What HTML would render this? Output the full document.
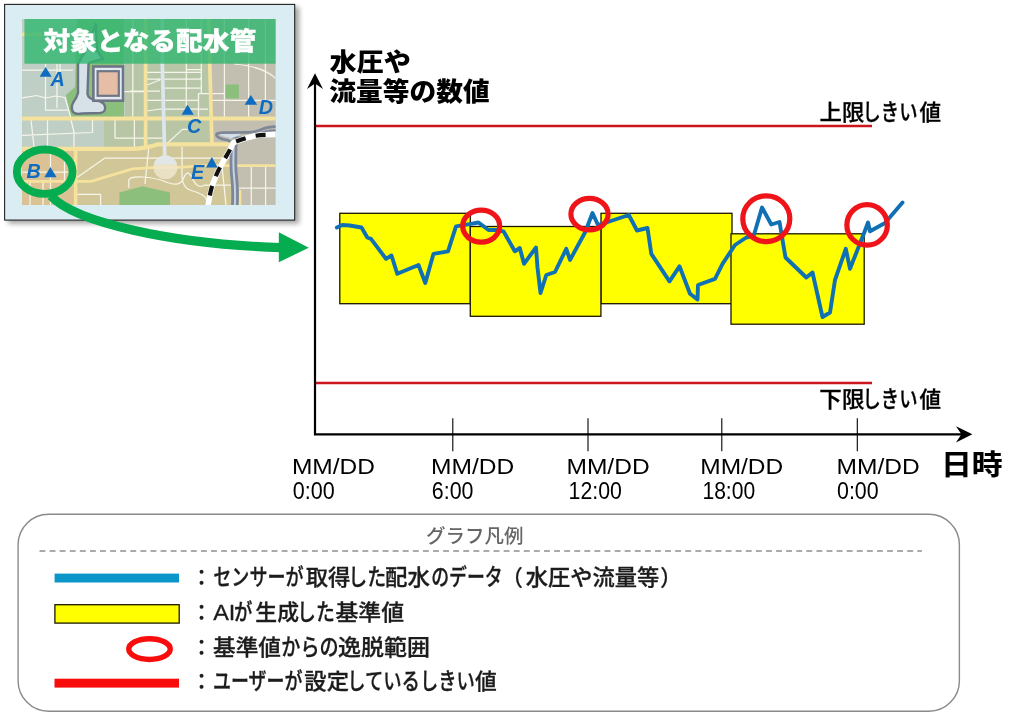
<!DOCTYPE html>
<html lang="ja">
<head>
<meta charset="utf-8">
<title>配水管 データ監視グラフ</title>
<style>
html,body{margin:0;padding:0;background:#fff;}
body{width:1024px;height:712px;overflow:hidden;position:relative;font-family:"Liberation Sans","Noto Sans CJK JP",sans-serif;}
svg{position:absolute;left:0;top:0;display:block;}
text{font-family:"Liberation Sans","Noto Sans CJK JP",sans-serif;}
.jp{font-family:"Liberation Sans","Noto Sans CJK JP",sans-serif;}
</style>
</head>
<body>
<svg width="1024" height="712" viewBox="0 0 1024 712">
<defs>
  <filter id="sh" x="-10%" y="-10%" width="130%" height="130%">
    <feGaussianBlur in="SourceAlpha" stdDeviation="2.6"/>
    <feOffset dx="4" dy="2.5"/>
    <feComponentTransfer><feFuncA type="linear" slope="0.36"/></feComponentTransfer>
    <feMerge><feMergeNode/><feMergeNode in="SourceGraphic"/></feMerge>
  </filter>
  <clipPath id="mapclip"><rect x="22.2" y="19" width="253.4" height="186"/></clipPath>
</defs>

<!-- ===== MAP PANEL ===== -->
<g id="panel">
  <rect x="4.6" y="4.4" width="290.1" height="215.7" fill="#daedf3" stroke="#222" stroke-width="1.1" filter="url(#sh)"/>
  <g id="map" clip-path="url(#mapclip)">
<!--MAP-BEGIN-->
    <!-- base areas -->
    <rect x="22" y="19" width="254" height="186" fill="#c2beb0"/>
    <rect x="22" y="19" width="187.5" height="100" fill="#bfcfc5"/>
    <rect x="125" y="19" width="84.5" height="100" fill="#b8c6a8"/>
    <rect x="22" y="118" width="82" height="30" fill="#bfcfc5"/>
    <rect x="104" y="118" width="107" height="30" fill="#b8c6a6"/>
    <path d="M22,147 H233.5 L236,150 V205 H22 Z" fill="#d1c697"/>
    <rect x="22" y="149" width="54" height="56" fill="#dac295"/>
    <!-- parks -->
    <path d="M77,19 H124 V118.5 H71 L66,95 L75,87 Z" fill="#8cbf7c"/>
    <rect x="225.6" y="84.5" width="13.2" height="14" fill="#8cbf7c"/>
    <path d="M119.4,205 V192.5 L142.5,186.2 L170,192.5 V205 Z" fill="#8cbf7c"/>
    <!-- canal + round plaza -->
    <!-- white minor roads -->
    <g fill="none" stroke="#f6f5ea" stroke-width="1.25" stroke-linejoin="round">
      <!-- upper-left block (A area) -->
      <path d="M22,70 H73 M45.5,64 V110 H68 M57,64 V108 M60,64 V73 M22,98 L37,95.5 L45.5,98 L56,96 L65,97.5 L71,118"/>
      <!-- between park and yellow road 1 -->
      <path d="M132.8,19 V118 M124,91.5 H145"/>
      <!-- grid between yellow road1 and road2 -->
      <path d="M147,72.3 H201 M147,79 H200 L201,78 M147,85 L160,80 M164,88 H201.5 M130,91 H160 M147,100.4 H198 M147,111 L160,109 H208 M186.3,19 V106 M201.3,19 V93.5 H198.5 V118 M198.5,93.5 H224 M186.3,69.5 H201"/>
      <!-- upper right -->
      <path d="M224.4,19 V118 M248.6,19 V118 M265.4,19 V100 M211,100.4 H276 M234,64 Q262,66 276,78.5"/>
      <!-- mid band -->
      <path d="M22,135.5 L92.5,132.5 V120 M31,120 L34,147 M47.5,120 V147 M71,120 L74,132 V147 M115,120 V138 H162.5 M134.4,120 V147 M187.5,129.4 H182.5 L167.5,143"/>
      <!-- lower left -->
      <path d="M22,172 H68 M30,181 V205 M43,181 V205 M50.5,149 V205 M64.5,160 V181 M77,194.4 H100.6 V205"/>
      <path d="M77,177.5 L105,158.1 H236 M128.8,188 V180 Q130,176.5 142.5,177 T167.5,182.5 T183.8,177.8 T192.5,178.8 T205,185 H236 M148.8,147 L145,184 M182,147 V177 Q183,188 190,190 T202.5,195 T206.5,205 M222,166 L226,205"/>
      <!-- lower right grid -->
      <path d="M251.3,166 V205 M265.6,166 V205 M238,188 H276"/>
    </g>
    <!-- yellow main roads -->
    <g fill="none" stroke="#f5e29c" stroke-linejoin="round">
      <path d="M22,34.2 H42" stroke-width="3.4"/>
      <path d="M22,118.5 H276" stroke-width="4"/>
      <path d="M145.6,19 V146" stroke-width="3.7"/>
      <path d="M208.6,19 L212,146" stroke-width="3.7"/>
      <path d="M22,148.9 H130 Q146,148.5 157.5,144.4 H234" stroke-width="4.2"/>
      <path d="M75.6,149 V205" stroke-width="3.6"/>
      <path d="M22,181.3 H91 L132.5,168.8 L155,167.3 H178 L205,165.6 H276" stroke-width="2.8"/>
      <path d="M239.8,190 V205" stroke-width="3"/>
    </g>
    <path d="M162.2,19 L162.3,64 L164.8,158" fill="none" stroke="#dde6ee" stroke-width="3.7"/>
    <circle cx="165.4" cy="167.3" r="12" fill="#efe6cf" fill-opacity="0.82"/>
    <path d="M153.7,164.6 A12,12 0 0 1 177.1,164.6 Z" fill="#dfe8ee" fill-opacity="0.8"/>
    <!-- pond -->
    <path d="M95.8,24 L90,40 Q85.5,52 81.8,57 L78,64 V93 Q77,97 73.5,102 Q70,108 73.5,112.5 Q76,114.5 82,113.5 L100,113 Q106,112.5 105,106.5 Q104,102 97,100.5 Q88,99 87.5,94 L88.5,64 L90,62.4 L103,59 L97.2,51 Z" fill="#d6e1e8" stroke="#6b7484" stroke-width="2.4" stroke-linejoin="round"/>
    <!-- building -->
    <rect x="93.4" y="66.5" width="29.6" height="34.2" fill="#e3e9f1" stroke="#6e7686" stroke-width="2.6"/>
    <rect x="97.6" y="71.2" width="21.2" height="24.6" fill="#e6bda5" stroke="#6e7686" stroke-width="2.2"/>
    <!-- river -->
    <g fill="none" stroke-linecap="round" stroke-linejoin="round">
      <path d="M277,126.6 Q268,126.6 262,129.2 Q255,132.4 248,132.4 L222,132.6 Q215.6,133 216.6,135.6 Q218,138.4 227,140 L234,143" stroke="#7d8798" stroke-width="2.7"/>
      <path d="M277,130.4 Q266,130.6 258,134 Q248,138 238,137.6 L228,137" stroke="#7d8798" stroke-width="2.2"/>
      <path d="M220.5,134.6 L240,134.4 L231,138.2 Z" fill="#d3e0ea" stroke="#d3e0ea" stroke-width="0.8"/>
      <path d="M233.6,144 L233.4,160 Q233.2,170 234.4,180 Q235.6,192 234.8,206" stroke="#7d8798" stroke-width="7.6" stroke-linecap="butt"/>
      <path d="M233.6,146 L233.4,160 Q233.2,170 234.4,180 Q235.6,192 234.8,206" stroke="#c3d3e4" stroke-width="2" stroke-linecap="butt"/>
    </g>
    <!-- railway -->
    <path id="rail" d="M276,134.4 L265.4,134.8 Q260,135 255.2,135.8 Q245,138 235,142 L233,143.2 L229.4,150.8 L224.8,158.6 Q217,171.6 212.4,185 Q209.4,195 208,206" fill="none" stroke="#fff" stroke-width="5.6"/>
    <path d="M276,134.4 L265.4,134.8 Q260,135 255.2,135.8 Q245,138 235,142 L233,143.2 L229.4,150.8 L224.8,158.6 Q217,171.6 212.4,185 Q209.4,195 208,206" fill="none" stroke="#111" stroke-width="4.2" stroke-dasharray="10 10.4" stroke-dashoffset="-10.4"/>
    <!-- title banner -->
    <rect x="24.4" y="19" width="252" height="44.7" fill="#2fb76f" fill-opacity="0.8"/>
<!--MAP-END-->
  </g>
<!--MAPOVER-BEGIN-->
  <text class="jp" x="43.43" y="50.23" font-size="25.2" font-weight="900" fill="#fff" stroke="#fff" stroke-width="0.35" textLength="212.66" lengthAdjust="spacingAndGlyphs">対象となる配水管</text>
  <!-- sensor markers -->
  <g fill="#0f6cc0">
    <path d="M45.6,67 L51.7,76.7 H39.6 Z"/>
    <path d="M187.6,104.7 L193.8,114.8 H181.6 Z"/>
    <path d="M250.8,95 L257.2,104.8 H244.6 Z"/>
    <path d="M211.9,157.1 L217.6,167.5 H206 Z"/>
    <path d="M50.4,166.9 L56.6,177.3 H44.3 Z"/>
  </g>
  <g fill="#0f6cc0" font-family="'Liberation Sans',sans-serif" font-weight="700" font-style="italic" font-size="19.8">
    <text x="50.6" y="86.4">A</text>
    <text x="187" y="132.8">C</text>
    <text x="258.8" y="114">D</text>
    <text x="191" y="178.7">E</text>
    <text x="26.6" y="177.7">B</text>
  </g>
  <!-- selection ring + arrow -->
  <ellipse cx="44.7" cy="171.7" rx="27.9" ry="22.2" fill="none" stroke="#06ac50" stroke-width="7.8"/>
  <path d="M51,196 C75,222 170,244 281,247.6" fill="none" stroke="#06ac50" stroke-width="9.2"/>
  <path d="M278.8,232.2 L308.8,247.8 L278.8,262.2 Z" fill="#06ac50"/>
<!--MAPOVER-END-->
</g>

<!-- ===== CHART ===== -->
<g id="chart">
<!--CHART-BEGIN-->
  <!-- yellow baseline boxes -->
  <g fill="#ffff00" stroke="#1c1800" stroke-width="1.3">
    <rect x="339.8" y="213.3" width="130.5" height="90.4"/>
    <rect x="601" y="213.3" width="131" height="90.4"/>
    <rect x="470.3" y="226.5" width="130.6" height="89.8"/>
    <rect x="731" y="233.8" width="133.2" height="90.4"/>
  </g>
  <!-- threshold lines -->
  <line x1="315" y1="126" x2="872" y2="126" stroke="#cc141c" stroke-width="2.3"/>
  <line x1="315" y1="383" x2="872" y2="383" stroke="#cc141c" stroke-width="2.3"/>
  <!-- sensor data line -->
  <polyline fill="none" stroke="#1070b4" stroke-width="3.9" stroke-linejoin="round" stroke-linecap="round"
   points="336.8,227.5 342.3,225 349.8,225.5 361.5,227.5 367.3,237.5 371,238.8 386,258.8 391.5,255.5 397.3,273.8 418.5,265 425.3,283 433.5,253.8 448,251.3 456,226.3 471,223.8 478.5,222.5 488.5,230 496,230 503.5,231.3 514.8,251.3 519.8,248 524,263.8 536,247.5 537.5,267.5 540.5,293 546.3,275 555,272 566.3,248.8 570,260 585,232.5 592.5,213 598,225 606.3,222.5 628.8,215 637,230.5 647.5,228 651.3,253.8 669.5,281.3 679.5,266.3 690,293.8 697.5,299.5 698,285 715,278.8 722.5,263.8 735,245 746.3,237.5 753.8,235.5 762,207.5 771.3,224.5 779.5,222 785.5,257.5 806.3,277.5 812.5,272.5 822.5,317 830,312.5 835,280 845.8,248.8 850,268.8 863.8,233.8 868,222.5 870,231.3 885,223 902.5,202.5"/>
  <!-- deviation circles -->
  <g fill="none" stroke="#ee1419" stroke-width="5.2">
    <ellipse cx="481.2" cy="226.1" rx="18.5" ry="16"/>
    <ellipse cx="589.5" cy="214.1" rx="18.6" ry="15.7"/>
    <ellipse cx="766.3" cy="218.7" rx="23.5" ry="22.9"/>
    <ellipse cx="867.1" cy="224.9" rx="20.25" ry="20.25"/>
  </g>
  <!-- axes -->
  <g fill="none" stroke="#000" stroke-width="2.2" stroke-linejoin="miter">
    <polyline points="315,82 315,434.3 964,434.3"/>
  </g>
  <path d="M315,73.2 L323,89 L315,83.6 L307,89 Z" fill="#000"/>
  <path d="M972.4,434.3 L956,442.4 L961.4,434.3 L956,426.2 Z" fill="#000"/>
  <g stroke="#000" stroke-width="1.1">
    <line x1="452.8" y1="418.3" x2="452.8" y2="451.3"/>
    <line x1="588" y1="418.3" x2="588" y2="451.3"/>
    <line x1="721.8" y1="418.3" x2="721.8" y2="451.3"/>
    <line x1="857.3" y1="418.3" x2="857.3" y2="451.3"/>
  </g>
  <!-- axis titles -->
  <g class="jp" font-weight="900" fill="#000">
    <text x="329.63" y="71.29" font-size="25.1" textLength="81.22" lengthAdjust="spacingAndGlyphs">水圧や</text>
    <text x="329.37" y="100.98" font-size="25.61" textLength="160.34" lengthAdjust="spacingAndGlyphs">流量等の数値</text>
  </g>
  <g class="jp" font-weight="700" fill="#000" stroke="#000" stroke-width="0.15">
    <text x="940.97" y="475.1" font-size="28.96" textLength="61.76" lengthAdjust="spacingAndGlyphs">日時</text>
  </g>
  <g class="jp" font-weight="500" fill="#000" stroke="#000" stroke-width="0.3">
    <text y="120.4"><tspan x="819.6" font-size="21.6" textLength="44.87" lengthAdjust="spacingAndGlyphs">上限</tspan><tspan x="862.57" font-size="22.6" textLength="54.91" lengthAdjust="spacingAndGlyphs">しきい</tspan><tspan x="919.48" font-size="21.6" textLength="21.56" lengthAdjust="spacingAndGlyphs">値</tspan></text>
    <text y="407.0"><tspan x="819.37" font-size="21.6" textLength="45.1" lengthAdjust="spacingAndGlyphs">下限</tspan><tspan x="862.57" font-size="22.6" textLength="54.91" lengthAdjust="spacingAndGlyphs">しきい</tspan><tspan x="919.48" font-size="21.6" textLength="21.56" lengthAdjust="spacingAndGlyphs">値</tspan></text>
  </g>
  <!-- tick labels -->
  <g fill="#000">
    <text x="291.94" y="474.3" font-size="22.6" textLength="83.1" lengthAdjust="spacingAndGlyphs">MM/DD</text>
    <text x="292.85" y="499.2" font-size="23.2" textLength="41.92" lengthAdjust="spacingAndGlyphs">0:00</text>
    <text x="431.04" y="474.3" font-size="22.6" textLength="83.2" lengthAdjust="spacingAndGlyphs">MM/DD</text>
    <text x="431.83" y="499.2" font-size="23.2" textLength="41.64" lengthAdjust="spacingAndGlyphs">6:00</text>
    <text x="566.44" y="474.3" font-size="22.6" textLength="83.2" lengthAdjust="spacingAndGlyphs">MM/DD</text>
    <text x="568.61" y="499.2" font-size="23.2" textLength="53.26" lengthAdjust="spacingAndGlyphs">12:00</text>
    <text x="700.24" y="474.3" font-size="22.6" textLength="82.99" lengthAdjust="spacingAndGlyphs">MM/DD</text>
    <text x="702.42" y="499.2" font-size="23.2" textLength="52.74" lengthAdjust="spacingAndGlyphs">18:00</text>
    <text x="836.64" y="474.3" font-size="22.6" textLength="83.2" lengthAdjust="spacingAndGlyphs">MM/DD</text>
    <text x="837.06" y="499.2" font-size="23.2" textLength="41.61" lengthAdjust="spacingAndGlyphs">0:00</text>
  </g>
<!--CHART-END-->
</g>

<!-- ===== LEGEND ===== -->
<g id="legend">
<!--LEGEND-BEGIN-->
  <rect x="18.1" y="514.2" width="941.3" height="197" rx="30.5" ry="30.5" fill="#fff" stroke="#8a8a8a" stroke-width="1.4"/>
  <line x1="39.5" y1="551" x2="921.9" y2="551" stroke="#8e8e8e" stroke-width="1.6" stroke-dasharray="5.9 4.19"/>
  <text class="jp" x="426.03" y="542.89" font-size="19.06" font-weight="500" fill="#666" textLength="97.44" lengthAdjust="spacingAndGlyphs">グラフ凡例</text>
  <rect x="54.6" y="573.6" width="124.4" height="8.9" fill="#0a96c8"/>
  <rect x="54.9" y="604.7" width="124.3" height="18.4" fill="#ffff00" stroke="#1c1800" stroke-width="1.3"/>
  <ellipse cx="149.5" cy="649.1" rx="20.75" ry="10.4" fill="none" stroke="#f80c0c" stroke-width="5.4"/>
  <rect x="54.5" y="678.7" width="124.5" height="8.9" fill="#f80c0c"/>
  <g class="jp" font-size="22" font-weight="500" fill="#1c1c1c" stroke="#1c1c1c" stroke-width="0.3">
    <text y="585.0">
<tspan x="190.94" textLength="21.11" lengthAdjust="spacingAndGlyphs">：</tspan>
<tspan x="213.3" font-size="23.2" textLength="90.37" lengthAdjust="spacingAndGlyphs">センサーが</tspan>
<tspan x="305.75" textLength="44.74" lengthAdjust="spacingAndGlyphs">取得</tspan>
<tspan x="348.23" font-size="23.2" textLength="37.88" lengthAdjust="spacingAndGlyphs">した</tspan>
<tspan x="385.08" textLength="44.97" lengthAdjust="spacingAndGlyphs">配水</tspan>
<tspan x="431.15" font-size="23.2" textLength="71.62" lengthAdjust="spacingAndGlyphs">のデータ</tspan>
<tspan x="501.87" textLength="21.07" lengthAdjust="spacingAndGlyphs">（</tspan>
<tspan x="525.76" textLength="133.43" lengthAdjust="spacingAndGlyphs">水圧や流量等</tspan>
<tspan x="660.36" textLength="21.07" lengthAdjust="spacingAndGlyphs">）</tspan>
    </text>
    <text y="620.3">
<tspan x="190.94" textLength="21.11" lengthAdjust="spacingAndGlyphs">：</tspan>
<tspan x="213.2" textLength="22.16" lengthAdjust="spacingAndGlyphs">AI</tspan>
<tspan x="234.08" font-size="23.2" textLength="18.39" lengthAdjust="spacingAndGlyphs">が</tspan>
<tspan x="255.33" textLength="43.63" lengthAdjust="spacingAndGlyphs">生成</tspan>
<tspan x="297.05" font-size="23.2" textLength="37.76" lengthAdjust="spacingAndGlyphs">した</tspan>
<tspan x="335.52" textLength="68.47" lengthAdjust="spacingAndGlyphs">基準値</tspan>
    </text>
    <text y="654.9">
<tspan x="190.94" textLength="21.11" lengthAdjust="spacingAndGlyphs">：</tspan>
<tspan x="213.02" textLength="67.96" lengthAdjust="spacingAndGlyphs">基準値</tspan>
<tspan x="281.25" font-size="23.2" textLength="57.38" lengthAdjust="spacingAndGlyphs">からの</tspan>
<tspan x="338.01" textLength="91.9" lengthAdjust="spacingAndGlyphs">逸脱範囲</tspan>
    </text>
    <text y="688.9">
<tspan x="190.94" textLength="21.11" lengthAdjust="spacingAndGlyphs">：</tspan>
<tspan x="212.95" font-size="23.2" textLength="89.51" lengthAdjust="spacingAndGlyphs">ユーザーが</tspan>
<tspan x="304.33" textLength="44.64" lengthAdjust="spacingAndGlyphs">設定</tspan>
<tspan x="347.19" font-size="23.2" textLength="127.69" lengthAdjust="spacingAndGlyphs">しているしきい</tspan>
<tspan x="474.98" textLength="21.77" lengthAdjust="spacingAndGlyphs">値</tspan>
    </text>
  </g>
<!--LEGEND-END-->
</g>
</svg>
</body>
</html>
